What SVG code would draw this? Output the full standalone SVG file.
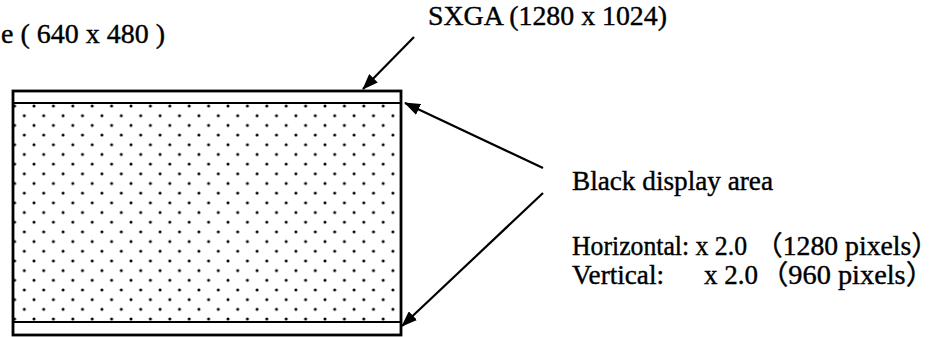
<svg xmlns="http://www.w3.org/2000/svg" width="936" height="337" viewBox="0 0 936 337">
<style>
.t{font-family:"Liberation Serif","Noto Sans CJK JP",serif;font-size:27px;fill:#000;stroke:#000;stroke-width:0.4}
.box{fill:none;stroke:#000;stroke-width:2.8}
.band{stroke:#000;stroke-width:2.2}
.conn{stroke:#000;stroke-width:2.2;fill:none}
</style>
<defs>
<pattern id="dots" patternUnits="userSpaceOnUse" x="19.45" y="110.86" width="19.4" height="19.36">
<circle cx="4.85" cy="4.84" r="1.5" fill="#000"/>
<circle cx="14.55" cy="14.52" r="1.5" fill="#000"/>
</pattern>
<marker id="ah" markerUnits="userSpaceOnUse" viewBox="0 0 16 12" refX="15" refY="6" markerWidth="16" markerHeight="12" orient="auto">
<path d="M0,0 L16,6 L0,12 Z" fill="#000"/>
</marker>
</defs>
<g id="screen">
<rect x="13" y="103" width="388" height="219" fill="url(#dots)"/>
<rect class="box" x="13" y="91" width="388" height="244"/>
<line class="band" x1="13" y1="103" x2="401" y2="103"/>
<line class="band" x1="13" y1="322" x2="401" y2="322"/>
</g>
<g id="labels">
<text class="t" x="1" y="43" textLength="164" lengthAdjust="spacingAndGlyphs">e ( 640 x 480 )</text>
<text class="t" x="428" y="25" textLength="239" lengthAdjust="spacingAndGlyphs">SXGA (1280 x 1024)</text>
<text class="t" x="572" y="190" textLength="201" lengthAdjust="spacingAndGlyphs">Black display area</text>
<text class="t" x="572" y="255" textLength="175" lengthAdjust="spacingAndGlyphs">Horizontal: x 2.0</text>
<text class="t" x="755" y="255" textLength="184" lengthAdjust="spacingAndGlyphs">（1280 pixels）</text>
<text class="t" x="572" y="284" textLength="92" lengthAdjust="spacingAndGlyphs">Vertical:</text>
<text class="t" x="704" y="284">x 2.0</text>
<text class="t" x="760" y="284" textLength="174" lengthAdjust="spacingAndGlyphs">（960 pixels）</text>
</g>
<g id="connectors">
<line class="conn" x1="414" y1="37" x2="363" y2="89" marker-end="url(#ah)"/>
<line class="conn" x1="543" y1="168" x2="405" y2="103" marker-end="url(#ah)"/>
<line class="conn" x1="543" y1="193" x2="402" y2="326" marker-end="url(#ah)"/>
</g>
</svg>
